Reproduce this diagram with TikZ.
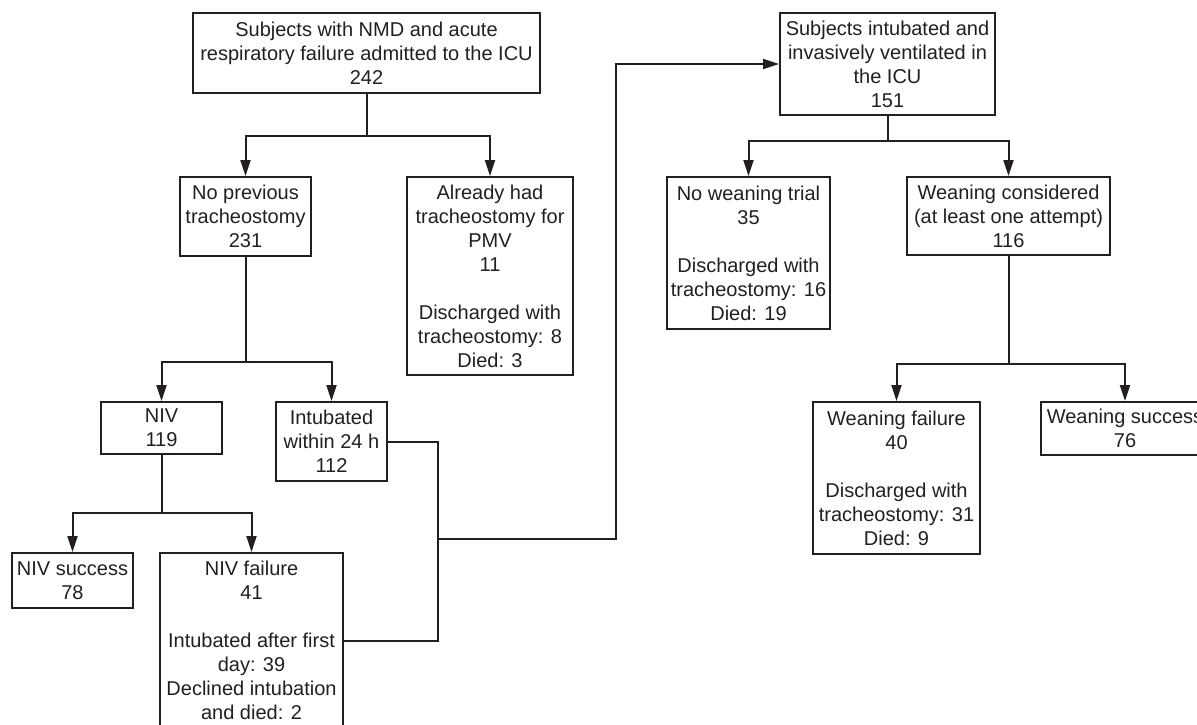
\documentclass[tikz,border=0pt]{standalone}
\usepackage{fontspec}
\setmainfont{Liberation Sans}
\usetikzlibrary{arrows.meta}
\definecolor{ink}{RGB}{35,31,32}
\begin{document}
\begin{tikzpicture}[x=0.5pt,y=-0.5pt,
  box/.style={draw=ink,line width=1pt,rectangle,align=center,inner sep=0pt,
    text=ink,font=\fontsize{10}{12}\selectfont},
  line/.style={draw=ink,line width=1pt},
  arr/.style={line,-{Triangle[length=8pt,width=5pt]}}]
\useasboundingbox (0,0) rectangle (1197,724);
% boxes
\node[box,minimum width=347*0.5pt,minimum height=80*0.5pt] (A) at (366.5,53)
  {Subjects with NMD and acute\\respiratory failure admitted to the ICU\\242};
\node[box,minimum width=131*0.5pt,minimum height=79*0.5pt] (B) at (245.5,216.5)
  {No previous\\tracheostomy\\231};
\node[box,minimum width=166*0.5pt,minimum height=198*0.5pt] (C) at (490,276)
  {Already had\\tracheostomy for\\PMV\\11\\[12pt]Discharged with\\tracheostomy: 8\\Died: 3};
\node[box,minimum width=121*0.5pt,minimum height=52*0.5pt] (D) at (161.5,428)
  {NIV\\119};
\node[box,minimum width=111*0.5pt,minimum height=79*0.5pt] (E) at (331.5,441.5)
  {Intubated\\within 24 h\\112};
\node[box,minimum width=121.5*0.5pt,minimum height=55*0.5pt] (H) at (72.5,580.5)
  {NIV success\\78};
\node[box,minimum width=183*0.5pt,minimum height=175*0.5pt] (F) at (251.5,640.5)
  {NIV failure\\41\\[12pt]Intubated after first\\day: 39\\Declined intubation\\and died: 2};
\node[box,minimum width=215*0.5pt,minimum height=102*0.5pt] (G) at (887.5,64)
  {Subjects intubated and\\invasively ventilated in\\the ICU\\151};
\node[box,minimum width=163*0.5pt,minimum height=152*0.5pt] (I) at (748.5,253)
  {No weaning trial\\35\\[12pt]Discharged with\\tracheostomy: 16\\Died: 19};
\node[box,minimum width=203*0.5pt,minimum height=78*0.5pt] (J) at (1008.5,216)
  {Weaning considered\\(at least one attempt)\\116};
\node[box,minimum width=167*0.5pt,minimum height=152*0.5pt] (K) at (896.5,478)
  {Weaning failure\\40\\[12pt]Discharged with\\tracheostomy: 31\\Died: 9};
\node[box,minimum width=168*0.5pt,minimum height=53*0.5pt] (L) at (1125,428.5)
  {Weaning success\\76};
% junctions
\coordinate (jA) at (366.5,136);
\coordinate (jB) at (245.5,362);
\coordinate (jD) at (161.5,513);
\coordinate (jG) at (887.5,141);
\coordinate (jJ) at (1008.5,364);
\coordinate (m) at (438,539);
\coordinate (cR) at (616,539);
% connectors
\draw[line] (A.south) -- (jA);
\draw[arr] (jA) -| (B.north);
\draw[arr] (jA) -| (C.north);
\draw[line] (B.south) -- (jB);
\draw[arr] (jB) -| (D.north);
\draw[arr] (jB) -| (E.north);
\draw[line] (D.south) -- (jD);
\draw[arr] (jD) -| (H.north);
\draw[arr] (jD) -| (F.north);
\draw[line] (E.east) -| (m);
\draw[line] (F.east) -| (m);
\draw[arr] (m) -- (cR) |- (G.west);
\draw[line] (G.south) -- (jG);
\draw[arr] (jG) -| (I.north);
\draw[arr] (jG) -| (J.north);
\draw[line] (J.south) -- (jJ);
\draw[arr] (jJ) -| (K.north);
\draw[arr] (jJ) -| (L.north);
\end{tikzpicture}
\end{document}
